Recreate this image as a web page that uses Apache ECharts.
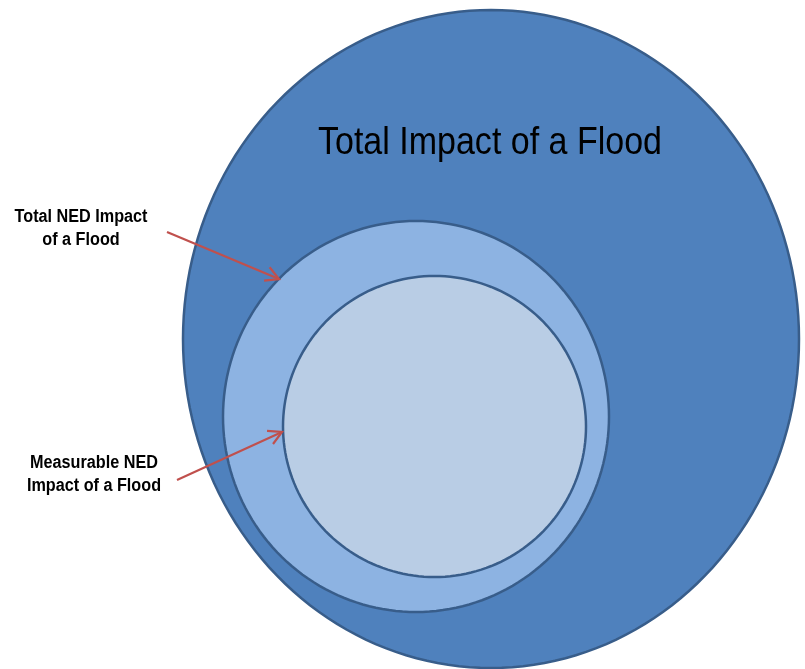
<!DOCTYPE html>
<html>
<head>
<meta charset="utf-8">
<script src="https://cdn.jsdelivr.net/npm/echarts@6/dist/echarts.min.js"></script>
<style>
  html, body { margin: 0; padding: 0; background: #fff; }
  #flood { width: 805px; height: 669px; }
</style>
</head>
<body>
<div id="flood"></div>
<script>
// circles of the diagram, in diagram units (same scale on both axes)
const circleNames = ['Total Impact of a Flood', 'Total NED Impact of a Flood', 'Measurable NED Impact of a Flood']
const circleCx = [491, 416, 434.5]
const circleCy = [339, 416.5, 426.5]
const circleRx = [308, 193, 151.5]
const circleRy = [329, 195.5, 150.5]
const circleFill = ['#4F81BD', '#8DB3E2', '#B9CDE5']

// callouts: label lines, arrow start and arrow tip
const calloutLabels = [['Total NED Impact', 'of a Flood'], ['Measurable NED', 'Impact of a Flood']]
const arrowFrom = [[167, 232], [177, 480]]
const arrowTo = [[279, 279], [282, 432]]

const sans = "'Liberation Sans Narrow', 'Arial Narrow', 'Liberation Sans', sans-serif"

let myChart = echarts.init(document.getElementById('flood'))

function ellipsePoints(c, rx, ry) {
  let pts = []
  for (let i = 0; i < 180; i++) {
    let a = (i / 180) * Math.PI * 2
    pts.push([c[0] + rx * Math.cos(a), c[1] + ry * Math.sin(a)])
  }
  return pts
}

myChart.setOption({
  animation: false,
  grid: { left: 0, right: 0, top: 0, bottom: 0 },
  xAxis: { type: 'value', min: 0, max: 805, show: false },
  yAxis: { type: 'value', min: 0, max: 669, inverse: true, show: false },
  series: [
    {
      type: 'custom',
      data: circleNames.map((n, i) => [circleCx[i], circleCy[i], circleRx[i], circleRy[i], i]),
      renderItem(params, api) {
        let c = api.coord([api.value(0), api.value(1)])
        let s = api.size([api.value(2), api.value(3)])
        let i = api.value(4)
        return {
          type: 'polygon',
          shape: { points: ellipsePoints(c, s[0], s[1]) },
          style: { fill: circleFill[i], stroke: '#385D8A', lineWidth: 2.5 }
        }
      },
      z: 1
    },
    {
      type: 'custom',
      data: arrowFrom.map((p, i) => [p[0], p[1], arrowTo[i][0], arrowTo[i][1], i]),
      renderItem(params, api) {
        let a = api.coord([api.value(0), api.value(1)])
        let b = api.coord([api.value(2), api.value(3)])
        let i = api.value(4)
        let ang = Math.atan2(b[1] - a[1], b[0] - a[0])
        let len = 15, spread = 0.5
        let h1 = [b[0] - len * Math.cos(ang - spread), b[1] - len * Math.sin(ang - spread)]
        let h2 = [b[0] - len * Math.cos(ang + spread), b[1] - len * Math.sin(ang + spread)]
        let lines = calloutLabels[i]
        return {
          type: 'group',
          children: [
            {
              type: 'line',
              shape: { x1: a[0], y1: a[1], x2: b[0], y2: b[1] },
              style: { stroke: '#C0504D', lineWidth: 2.2 }
            },
            {
              type: 'polyline',
              shape: { points: [h1, b, h2] },
              style: { stroke: '#C0504D', lineWidth: 2.2, fill: null }
            },
            {
              type: 'text',
              x: i === 0 ? 81 : 94,
              y: i === 0 ? 229 : 475,
              scaleX: 0.9,
              style: {
                text: lines.join('\n'),
                font: 'bold 18px ' + sans,
                fill: '#000',
                align: 'center',
                verticalAlign: 'middle',
                lineHeight: 23
              }
            }
          ]
        }
      },
      z: 2
    }
  ],
  graphic: [
    {
      type: 'text',
      x: 490,
      y: 144,
      scaleX: 0.895,
      z: 10,
      style: {
        text: circleNames[0],
        font: '38px ' + sans,
        fill: '#000',
        align: 'center',
        verticalAlign: 'middle'
      }
    }
  ]
})
</script>
</body>
</html>
